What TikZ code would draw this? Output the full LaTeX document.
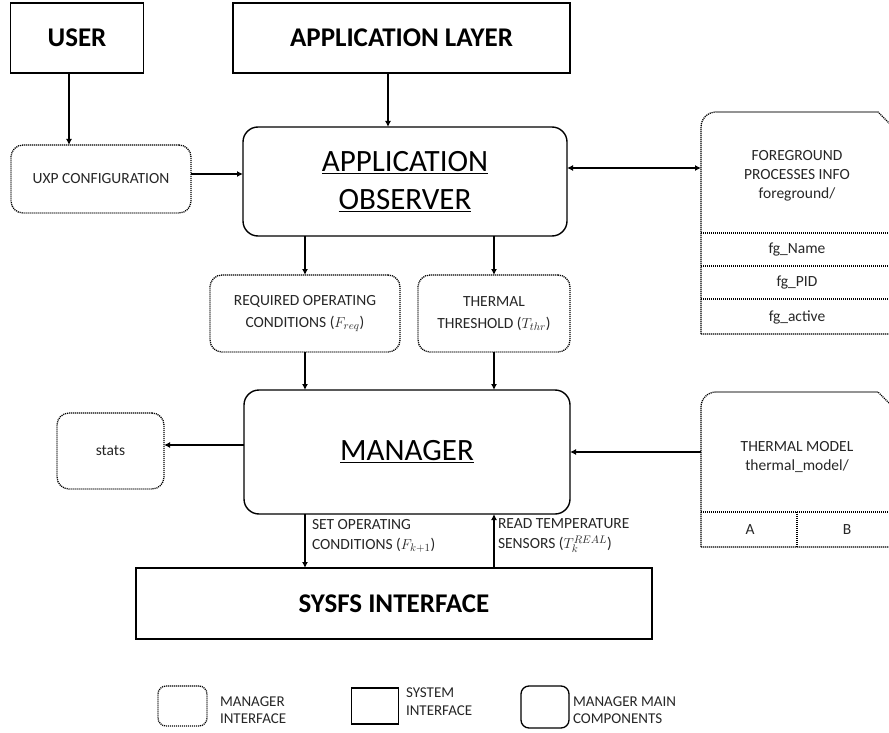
\documentclass[tikz,border=0pt]{standalone}
\usepackage{fontspec}
\setmainfont{Carlito}
\usetikzlibrary{arrows.meta}
\newcommand\fsz[2]{\fontsize{#1}{#2}\selectfont}
\begin{document}
\begin{tikzpicture}[x=1pt,y=-1pt,
  every node/.style={inner sep=0pt,outer sep=0pt,align=center},
  txt/.style={font=\fsz{15.5}{19},text=black!85},
  sysbox/.style={draw,line width=1.4pt,font=\bfseries\fsz{27}{32}},
  mainbox/.style={draw,line width=1.4pt,rounded corners=15pt,font=\fsz{31}{38}},
  ifline/.style={line width=1.3pt,dash pattern=on 1.1pt off 0.9pt},
  ifbox/.style={draw,ifline,rounded corners=12pt,font=\fsz{15.5}{22},text=black!85},
  conn/.style={line width=1.3pt,-{Latex[length=6pt,width=6pt]}},
  twoway/.style={line width=1.3pt,{Latex[length=6pt,width=6pt]}-{Latex[length=6pt,width=6pt]}},
  box/.style args={#1x#2}{minimum width=#1pt,minimum height=#2pt},
]
\useasboundingbox (0,0) rectangle (889,733);
\clip (0,0) rectangle (889,733);

% system-side blocks
\node[sysbox,box=133x70] (user) at (77,38) {USER};
\node[sysbox,box=337x70] (applayer) at (401.5,38) {APPLICATION LAYER};
\node[sysbox,box=516x71] (sysfs) at (394,603.5) {SYSFS INTERFACE};

% main components
\node[mainbox,box=324x109] (obs) at (405,181.5) {\underline{APPLICATION}\\\underline{OBSERVER}};
\node[mainbox,box=326x124] (mgr) at (407,452) {\underline{MANAGER}};

% manager interfaces
\node[ifbox,box=180x68] (uxp) at (101,179) {UXP CONFIGURATION};
\node[ifbox,box=190x77] (req) at (305,313.5) {REQUIRED OPERATING\\CONDITIONS ($F_{req}$)};
\node[ifbox,box=152x77] (thr) at (494,313.5) {THERMAL\\THRESHOLD ($T_{thr}$)};
\node[ifbox,box=107x76] (stats) at (110.5,451) {stats};

% foreground processes info table
\draw[ifline] (701,334) -- (701,127) arc[start angle=180,end angle=270,radius=15]
  -- (878,112) -- (893,127) -- (893,334) -- cycle;
\draw[ifline] (701,233) -- (893,233);
\draw[ifline] (701,266) -- (893,266);
\draw[ifline] (701,299) -- (893,299);
\node[txt] (fg) at (797,176) {FOREGROUND\\PROCESSES INFO\\foreground/};
\node[txt] (fgname) at (797,250) {fg\_Name};
\node[txt] (fgpid) at (797,283) {fg\_PID};
\node[txt] (fgactive) at (797,317) {fg\_active};
\coordinate (fgport) at (701,168);

% thermal model table
\draw[ifline] (701,547) -- (701,407) arc[start angle=180,end angle=270,radius=15]
  -- (878,392) -- (893,407) -- (893,547) -- cycle;
\draw[ifline] (701,512) -- (893,512);
\draw[ifline] (797,512) -- (797,547);
\node[txt] (tm) at (797,457) {THERMAL MODEL\\thermal\_model/};
\node[txt] (tma) at (750,530) {A};
\node[txt] (tmb) at (847,530) {B};
\coordinate (tmport) at (701,452);

% connectors
\draw[conn] ([xshift=-8pt]user.south) -- ([xshift=-8pt]user.south |- uxp.north);
\draw[conn] ([xshift=-13.5pt]applayer.south) -- ([xshift=-13.5pt]applayer.south |- obs.north);
\draw[conn] ([yshift=5pt]uxp.east) -- ([yshift=5pt]uxp.east -| obs.west);
\draw[twoway] (obs.east |- fgport) -- (fgport);
\draw[conn] (obs.south -| req.north) -- (req.north);
\draw[conn] (obs.south -| thr.north) -- (thr.north);
\draw[conn] (req.south) -- (req.south |- mgr.north);
\draw[conn] (thr.south) -- (thr.south |- mgr.north);
\draw[conn] ([yshift=7pt]mgr.west) -- ([yshift=7pt]mgr.west -| stats.east);
\draw[conn] (tmport) -- (mgr.east |- tmport);
\draw[conn] (mgr.south -| req.south) -- (sysfs.north -| req.south);
\draw[conn] (sysfs.north -| thr.south) -- (mgr.south -| thr.south);
\node[txt,anchor=west,align=left,font=\fsz{15.5}{20}] (setop) at (312,536) {SET OPERATING\\CONDITIONS ($F_{k+1}$)};
\node[txt,anchor=west,align=left,font=\fsz{15.5}{20}] (readt) at (498,536) {READ TEMPERATURE\\SENSORS ($T_k^{REAL}$)};

% legend
\node[ifbox,rounded corners=8pt,box=49x40] (lg1) at (182.5,706) {};
\node[txt,anchor=west,align=left,font=\fsz{15}{17}] (lg1t) at (220,710) {MANAGER\\INTERFACE};
\node[draw,line width=1.3pt,box=47x36] (lg2) at (375,706) {};
\node[txt,anchor=west,align=left,font=\fsz{15}{18}] (lg2t) at (406,702) {SYSTEM\\INTERFACE};
\node[draw,line width=1.3pt,rounded corners=8pt,box=48x42] (lg3) at (545,707) {};
\node[txt,anchor=west,align=left,font=\fsz{15}{17}] (lg3t) at (573,710) {MANAGER MAIN\\COMPONENTS};
\end{tikzpicture}
\end{document}
